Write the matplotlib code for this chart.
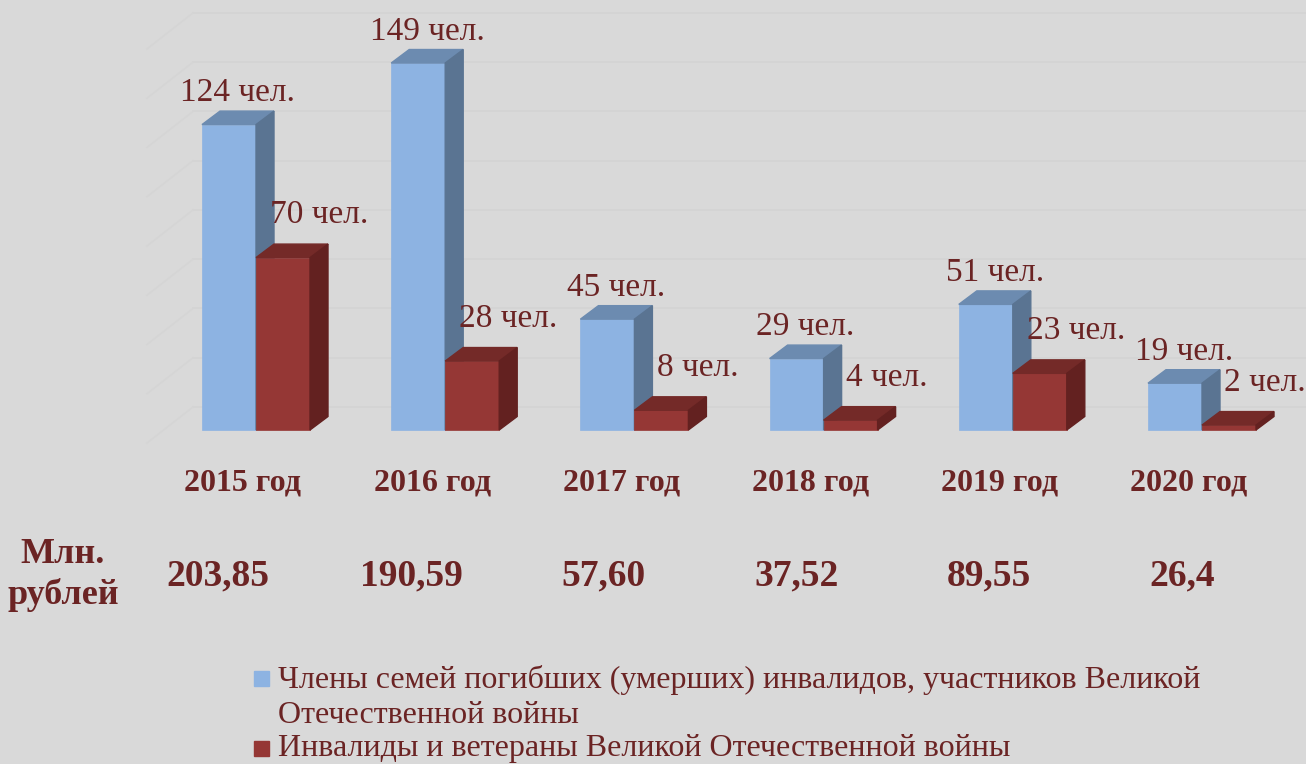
import matplotlib
matplotlib.use("Agg")
from matplotlib import pyplot as plt
from matplotlib.patches import Polygon, Rectangle

years = ["2015 год", "2016 год", "2017 год", "2018 год", "2019 год", "2020 год"]
family_members = [124, 149, 45, 29, 51, 19]
veterans = [70, 28, 8, 4, 23, 2]
money = ["203,85", "190,59", "57,60", "37,52", "89,55", "26,4"]
legend_labels = [
    "Члены семей погибших (умерших) инвалидов, участников Великой\nОтечественной войны",
    "Инвалиды и ветераны Великой Отечественной войны",
]

BG = "#D9D9D9"
TXT = "#6B2424"
BLUE = ("#8DB3E2", "#6C8BB0", "#5A7492")   # front, top, side
RED = ("#953735", "#742A28", "#632120")

W, H = 1306, 764
PX = 189.2      # pixels per group
PY = 2.463      # pixels per person
w = 54 / PX     # bar width
dx = 18 / PX    # depth offset
dy = 13.5 / PY

plt.rcParams["font.family"] = ["Liberation Serif", "DejaVu Serif"]

fig = plt.figure(figsize=(W / 100, H / 100), dpi=100, facecolor=BG)
ax = fig.add_axes([0, 0, 1, 1])
ax.set_facecolor(BG)
ax.set_xlim(-256 / PX, (W - 256) / PX)
ax.set_ylim(-(H - 430) / PY, 430 / PY)
ax.axis("off")

# faint back wall / floor grid
wall_x = -63 / PX
wall_dy = 23 / PY
for v in range(0, 161, 20):
    yv = v + wall_dy
    ax.plot([wall_x, ax.get_xlim()[1]], [yv, yv], color="#D3D3D3", lw=1.2, zorder=0)
    ax.plot([wall_x - 46 / PX, wall_x], [yv - 36 / PY, yv], color="#D5D5D5", lw=1.2, zorder=0)


def bar3d(x0, v, cols):
    ax.bar(x0, v, width=w, align="edge", color=cols[0], edgecolor=cols[0], lw=0.5, zorder=2)
    top = [(x0, v), (x0 + w, v), (x0 + w + dx, v + dy), (x0 + dx, v + dy)]
    side = [(x0 + w, 0), (x0 + w + dx, dy), (x0 + w + dx, v + dy), (x0 + w, v)]
    ax.add_patch(Polygon(top, closed=True, color=cols[1], zorder=2))
    ax.add_patch(Polygon(side, closed=True, color=cols[2], zorder=2))


for i in range(len(years)):
    bar3d(i - w, family_members[i], BLUE)
    bar3d(i, veterans[i], RED)

    ax.annotate(f"{family_members[i]} чел.", (i - w / 2 + dx / 2, family_members[i] + dy),
                xytext=(0, 7), textcoords="offset points", ha="center", va="baseline",
                fontsize=24, color=TXT, zorder=3)
    ax.annotate(f"{veterans[i]} чел.", (i + w / 2 + 36 / PX, veterans[i] + dy),
                xytext=(0, 15), textcoords="offset points", ha="center", va="baseline",
                fontsize=24, color=TXT, zorder=3)

    ax.text(i - 13 / PX, -60 / PY, years[i], ha="center", va="baseline",
            fontsize=23, fontweight="bold", color=TXT)
    ax.text(-0.2 + 1.019 * i, -155 / PY, money[i], ha="center", va="baseline",
            fontsize=27, fontweight="bold", color=TXT)

fig.text(63 / W, 1 - 575 / H, "Млн.\nрублей", ha="center", va="center",
         fontsize=26, fontweight="bold", color=TXT, linespacing=1.25)

# legend
fig.patches.append(Rectangle((254 / W, 1 - 686 / H), 15 / W, 15 / H,
                             transform=fig.transFigure, color=BLUE[0]))
fig.patches.append(Rectangle((254 / W, 1 - 756 / H), 15 / W, 15 / H,
                             transform=fig.transFigure, color=RED[0]))
lines = legend_labels[0].split("\n") + [legend_labels[1]]
for line, base in zip(lines, [688, 723, 756]):
    fig.text(278 / W, 1 - base / H, line, ha="left", va="baseline",
             fontsize=23, color=TXT)

fig.savefig("out.png", dpi=100, facecolor=BG)
